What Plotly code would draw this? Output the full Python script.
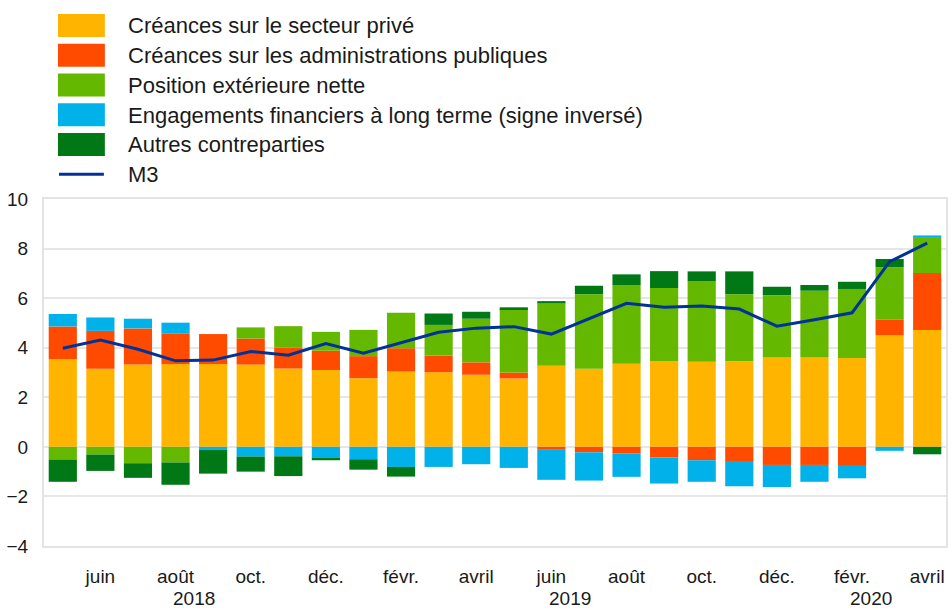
import plotly.graph_objects as go

# ---------------- data ----------------
months = ["2018-05", "2018-06", "2018-07", "2018-08", "2018-09", "2018-10", "2018-11", "2018-12",
          "2019-01", "2019-02", "2019-03", "2019-04", "2019-05", "2019-06", "2019-07", "2019-08",
          "2019-09", "2019-10", "2019-11", "2019-12", "2020-01", "2020-02", "2020-03", "2020-04"]
tick_months = ["2018-06", "2018-08", "2018-10", "2018-12", "2019-02", "2019-04",
               "2019-06", "2019-08", "2019-10", "2019-12", "2020-02", "2020-04"]
tick_labels = ["juin", "août", "oct.", "déc.", "févr.", "avril",
               "juin", "août", "oct.", "déc.", "févr.", "avril"]
years = ["2018", "2019", "2020"]

series_names = ["Créances sur le secteur privé",
                "Créances sur les administrations publiques",
                "Position extérieure nette",
                "Engagements financiers à long terme (signe inversé)",
                "Autres contreparties"]
line_name = "M3"

prive = [3.54, 3.15, 3.32, 3.34, 3.34, 3.32, 3.16, 3.10, 2.77, 3.04, 3.01, 2.91,
         2.76, 3.27, 3.15, 3.35, 3.46, 3.43, 3.45, 3.61, 3.61, 3.59, 4.51, 4.71]
admin = [1.32, 1.53, 1.46, 1.24, 1.21, 1.05, 0.84, 0.78, 0.89, 0.94, 0.67, 0.50,
         0.24, -0.09, -0.22, -0.26, -0.43, -0.54, -0.57, -0.73, -0.73, -0.77, 0.62, 2.30]
exterieure = [-0.51, -0.31, -0.66, -0.63, 0.00, 0.45, 0.87, 0.76, 1.06, 1.43, 1.24, 1.76,
              2.55, 2.52, 3.01, 3.18, 2.95, 3.25, 2.71, 2.51, 2.69, 2.78, 2.11, 1.42]
long_terme = [0.50, 0.54, 0.39, 0.43, -0.11, -0.39, -0.38, -0.43, -0.50, -0.81, -0.81, -0.70,
              -0.85, -1.24, -1.14, -0.95, -1.05, -0.87, -1.02, -0.89, -0.68, -0.50, -0.16, 0.10]
autres = [-0.90, -0.66, -0.59, -0.90, -0.97, -0.61, -0.80, -0.11, -0.42, -0.39, 0.46, 0.28,
          0.08, 0.09, 0.34, 0.43, 0.68, 0.40, 0.92, 0.34, 0.23, 0.29, 0.34, -0.30]
m3 = [3.98, 4.31, 3.94, 3.47, 3.50, 3.85, 3.70, 4.17, 3.78, 4.21, 4.62, 4.79,
      4.85, 4.55, 5.18, 5.79, 5.63, 5.68, 5.56, 4.87, 5.13, 5.41, 7.47, 8.22]

# ---------------- style ----------------
bar_colors = ["#FFB400", "#FF4B00", "#65B800", "#00B1EA", "#007816"]
line_color = "#003299"
FONT = "Liberation Sans, Arial, sans-serif"
TXT = "#1a1a1a"
W, H = 952, 610
L, R, T, B = 44, 948, 199, 546  # plot area in pixels

def px_x(p):
    return (p - L) / (R - L)

def px_y(p):
    return (B - p) / (B - T)

fig = go.Figure()
for name, vals, col in zip(series_names, [prive, admin, exterieure, long_terme, autres], bar_colors):
    fig.add_trace(go.Bar(x=months, y=vals, name=name, marker=dict(color=col, line=dict(width=0)),
                         showlegend=False))
fig.add_trace(go.Scatter(x=months, y=m3, name=line_name, mode="lines",
                         line=dict(color=line_color, width=3), showlegend=False))

# custom legend (large swatches as in the reference)
shapes = []
annotations = []
row0, step = 25.5, 29.75
for i, (name, col) in enumerate(zip(series_names, bar_colors)):
    yc = row0 + i * step
    shapes.append(dict(type="rect", xref="paper", yref="paper",
                       x0=px_x(58), x1=px_x(105), y0=px_y(yc + 11.5), y1=px_y(yc - 11.5),
                       fillcolor=col, line=dict(width=0), layer="above"))
    annotations.append(dict(xref="paper", yref="paper", x=px_x(126), y=px_y(yc + 0.5),
                            xanchor="left", yanchor="middle", text=name, showarrow=False,
                            font=dict(family=FONT, size=22, color=TXT)))
yc = row0 + 5 * step
shapes.append(dict(type="line", xref="paper", yref="paper",
                   x0=px_x(59), x1=px_x(104), y0=px_y(yc), y1=px_y(yc),
                   line=dict(color=line_color, width=3)))
annotations.append(dict(xref="paper", yref="paper", x=px_x(126), y=px_y(yc + 0.5),
                        xanchor="left", yanchor="middle", text=line_name, showarrow=False,
                        font=dict(family=FONT, size=22, color=TXT)))

# year labels centred under each year's months
for yr in years:
    idx = [i for i, m in enumerate(months) if m.startswith(yr)]
    annotations.append(dict(xref="x", yref="paper", x=sum(idx) / len(idx), y=0,
                            yshift=-(598 - B), xanchor="center", yanchor="middle",
                            text=yr, showarrow=False,
                            font=dict(family=FONT, size=19, color=TXT)))

fig.update_layout(
    width=W, height=H,
    margin=dict(l=L, r=W - R, t=T, b=H - B, pad=0),
    paper_bgcolor="white", plot_bgcolor="white",
    barmode="relative", bargap=0.25,
    font=dict(family=FONT, color=TXT, size=19),
    shapes=shapes, annotations=annotations,
    showlegend=False,
)
fig.update_xaxes(type="category", range=[-0.5, len(months) - 0.5],
                 tickmode="array", tickvals=tick_months, ticktext=tick_labels,
                 ticks="", ticklabelstandoff=12, showgrid=False,
                 showline=True, linecolor="#e3e3e3", linewidth=2, mirror=True,
                 tickfont=dict(family=FONT, size=19, color=TXT))
fig.update_yaxes(range=[-4, 10], tickmode="array", tickvals=list(range(-4, 11, 2)),
                 ticks="", ticklabelstandoff=10, showgrid=True, gridcolor="#e6e6e6", gridwidth=2,
                 zeroline=False, showline=True, linecolor="#e3e3e3", linewidth=2, mirror=True,
                 tickfont=dict(family=FONT, size=19, color=TXT))

fig.write_html("out.html")
